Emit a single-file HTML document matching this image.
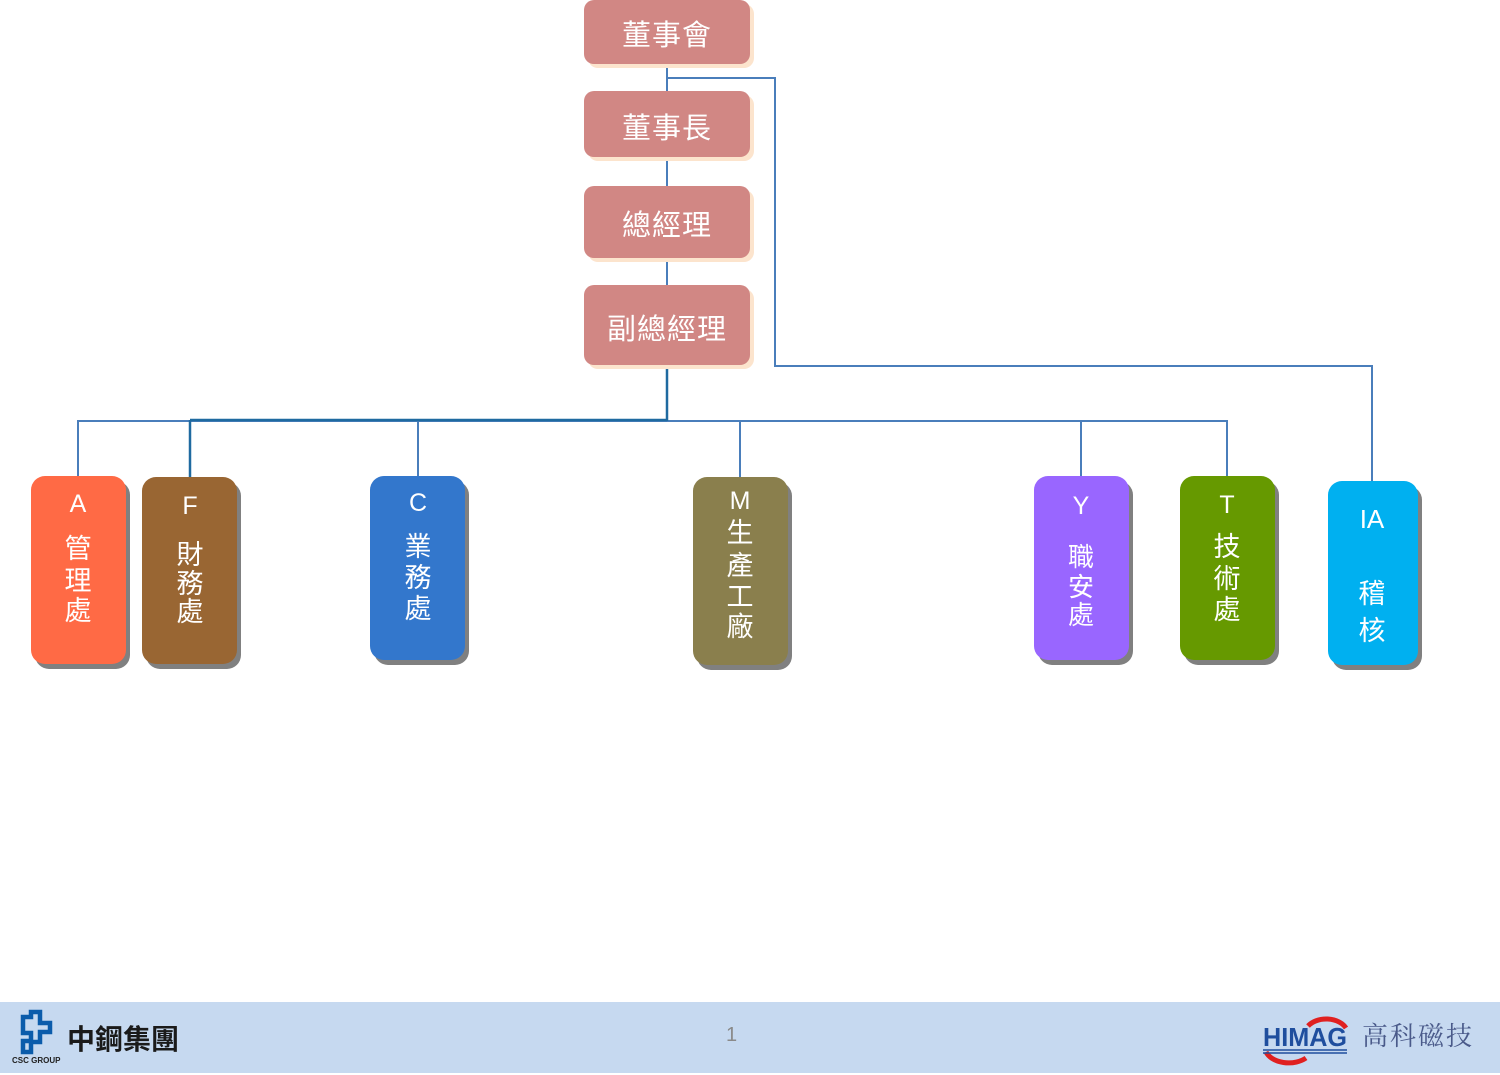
<!DOCTYPE html>
<html><head><meta charset="utf-8"><style>
body{margin:0;width:1500px;height:1075px;position:relative;background:#fff;overflow:hidden;font-family:"Liberation Sans","Noto Sans CJK TC",sans-serif}
.top{position:absolute;left:584px;width:166px;background:#D18784;border-radius:10px;box-shadow:4px 4px 0 #FCE4CD;color:#fff;font-size:29px;text-align:center;letter-spacing:1px;font-family:"Noto Sans CJK TC",sans-serif}
.bx{position:absolute;border-radius:14px;box-shadow:4px 5px 0 #808080}
.t{position:absolute;color:#fff;width:60px;text-align:center;height:30px;line-height:30px;font-size:27px;font-family:"Liberation Sans","Noto Sans CJK TC",sans-serif}
.f{position:absolute;left:0;top:1002px;width:1500px;height:71px;background:#C6D9F0}
</style></head><body>
<svg width="1500" height="1075" style="position:absolute;left:0;top:0">
<g fill="none" stroke="#4A7EBB" stroke-width="2">
<line x1="667" y1="64" x2="667" y2="290"/>
<polyline points="667,78 775,78 775,366 1372,366 1372,481"/>
<line x1="78" y1="421" x2="1227" y2="421"/>
<line x1="78" y1="420" x2="78" y2="477"/>
<line x1="418" y1="420" x2="418" y2="477"/>
<line x1="740" y1="420" x2="740" y2="477"/>
<line x1="1081" y1="420" x2="1081" y2="477"/>
<line x1="1227" y1="420" x2="1227" y2="477"/>
</g>
<g fill="none" stroke="#1F6AA0" stroke-width="2.5">
<line x1="667" y1="365" x2="667" y2="421"/>
<line x1="190" y1="420" x2="667" y2="420"/>
<line x1="190" y1="420" x2="190" y2="477"/>
</g>
</svg>
<div class="top" style="top:0;height:64px;line-height:66px">董事會</div>
<div class="top" style="top:91px;height:66px;line-height:70px">董事長</div>
<div class="top" style="top:186px;height:72px;line-height:74px">總經理</div>
<div class="top" style="top:285px;height:80px;line-height:84px">副總經理</div>

<div class="bx" style="left:31px;top:476px;width:95px;height:188px;background:#FF6A45"></div>
<div class="bx" style="left:142px;top:477px;width:95px;height:187px;background:#996633"></div>
<div class="bx" style="left:370px;top:476px;width:95px;height:184px;background:#3377CC"></div>
<div class="bx" style="left:693px;top:477px;width:95px;height:188px;background:#8A7F4D"></div>
<div class="bx" style="left:1034px;top:476px;width:95px;height:184px;background:#9966FF"></div>
<div class="bx" style="left:1180px;top:476px;width:95px;height:184px;background:#669900"></div>
<div class="bx" style="left:1328px;top:481px;width:90px;height:184px;background:#00B0F0"></div>

<div class="t" style="left:48px;top:489px;font-size:25px">A</div>
<div class="t" style="left:48px;top:534px">管</div>
<div class="t" style="left:48px;top:566px">理</div>
<div class="t" style="left:48px;top:596px">處</div>

<div class="t" style="left:160px;top:491px;font-size:25px">F</div>
<div class="t" style="left:160px;top:540px">財</div>
<div class="t" style="left:160px;top:569px">務</div>
<div class="t" style="left:160px;top:597px">處</div>

<div class="t" style="left:388px;top:488px;font-size:25px">C</div>
<div class="t" style="left:388px;top:532px">業</div>
<div class="t" style="left:388px;top:563px">務</div>
<div class="t" style="left:388px;top:594px">處</div>

<div class="t" style="left:710px;top:486px;font-size:25px">M</div>
<div class="t" style="left:710px;top:518px">生</div>
<div class="t" style="left:710px;top:551px">產</div>
<div class="t" style="left:710px;top:582px">工</div>
<div class="t" style="left:710px;top:612px">廠</div>

<div class="t" style="left:1051px;top:491px;font-size:25px">Y</div>
<div class="t" style="left:1051px;top:542px;font-size:26px">職</div>
<div class="t" style="left:1051px;top:572px;font-size:26px">安</div>
<div class="t" style="left:1051px;top:600px;font-size:26px">處</div>

<div class="t" style="left:1197px;top:490px;font-size:25px">T</div>
<div class="t" style="left:1197px;top:532px">技</div>
<div class="t" style="left:1197px;top:564px">術</div>
<div class="t" style="left:1197px;top:595px">處</div>

<div class="t" style="left:1342px;top:504px;font-size:26px">IA</div>
<div class="t" style="left:1342px;top:579px">稽</div>
<div class="t" style="left:1342px;top:616px">核</div>

<div class="f"></div>
<svg width="50" height="50" style="position:absolute;left:12px;top:1008px">
<path d="M11 9h8v-5h9v11h10v9h-10v10h-9v10h-8v-11h8v-8h-8z" fill="none" stroke="#0B5CAB" stroke-width="4.5"/>
</svg>
<div style="position:absolute;left:12px;top:1056px;font-size:8px;font-weight:bold;color:#222">CSC GROUP</div>
<div style="position:absolute;left:67px;top:1020px;font-size:28px;font-weight:bold;color:#1a1a1a;font-family:'Noto Sans CJK TC',sans-serif;line-height:36px">中鋼集團</div>
<div style="position:absolute;left:726px;top:1024px;font-size:20px;color:#8a8a8a">1</div>
<svg width="95" height="65" style="position:absolute;left:1258px;top:1008px">
<path d="M50 18 A22 16 0 0 1 88 20" fill="none" stroke="#E02020" stroke-width="5"/>
<path d="M8 44 A24 16 0 0 0 48 50" fill="none" stroke="#E02020" stroke-width="5"/>
<text x="5" y="38" font-family="Liberation Sans" font-weight="bold" font-size="26" fill="#1F4E9E" textLength="84" lengthAdjust="spacingAndGlyphs">HIMAG</text>
<g stroke="#1F4E9E" stroke-width="1.5"><line x1="5" y1="42" x2="89" y2="42"/><line x1="5" y1="45" x2="89" y2="45"/></g>
</svg>
<div style="position:absolute;left:1362px;top:1017px;font-size:26px;color:#4a5a8a;letter-spacing:2px;font-family:'Noto Serif CJK SC',serif;line-height:36px">高科磁技</div>
</body></html>
